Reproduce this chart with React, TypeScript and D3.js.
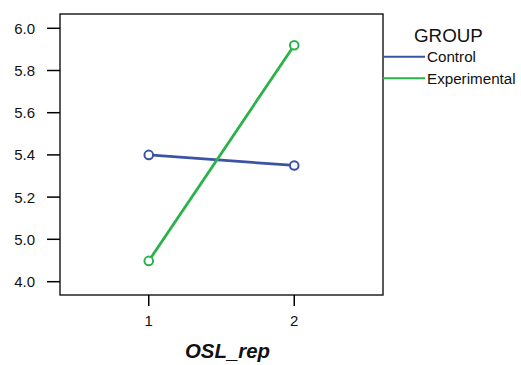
import React from "react";
import * as d3 from "d3";

const levels = ["1", "2"];
const groups = ["Control", "Experimental"];
const controlMeans = [5.4, 5.35];
const experimentalMeans = [4.49, 5.92];
const yTicks = [4.0, 5.0, 5.2, 5.4, 5.6, 5.8, 6.0];
const colors = ["#3a53a4", "#2bb24a"];

const W = 521;
const H = 365;
const plot = { left: 60, top: 14, right: 383, bottom: 295 };

export default function App() {
  const x = d3
    .scalePoint<string>()
    .domain(levels)
    .range([plot.left, plot.right])
    .padding(0.61);

  // axis has a break: 4.0 sits one step below 5.0
  const y = d3
    .scaleLinear()
    .domain([4.0, 5.0, 6.0])
    .range([281.7, 239.3, 28.3]);

  const line = d3
    .line<number>()
    .x((_, i) => x(levels[i]) as number)
    .y((d) => y(d));

  const series = [controlMeans, experimentalMeans];
  const font = "Arial, 'Liberation Sans', sans-serif";

  return (
    <svg
      width={W}
      height={H}
      style={{ position: "absolute", left: 0, top: 0, background: "#fff" }}
      fontFamily={font}
    >
      <rect
        x={plot.left}
        y={plot.top}
        width={plot.right - plot.left}
        height={plot.bottom - plot.top}
        fill="none"
        stroke="#000"
        strokeWidth={1.3}
      />
      {/* y axis */}
      {yTicks.map((t) => (
        <g key={t}>
          <line x1={47} x2={plot.left} y1={y(t)} y2={y(t)} stroke="#000" strokeWidth={1.5} />
          <text x={35} y={y(t)} dy="0.36em" textAnchor="end" fontSize={15} fill="#111">
            {t.toFixed(1)}
          </text>
        </g>
      ))}
      {/* x axis */}
      {levels.map((l) => (
        <g key={l}>
          <line
            x1={x(l)}
            x2={x(l)}
            y1={plot.bottom}
            y2={plot.bottom + 11}
            stroke="#000"
            strokeWidth={1.5}
          />
          <text x={x(l)} y={326} textAnchor="middle" fontSize={15} fill="#111">
            {l}
          </text>
        </g>
      ))}
      <text
        x={(plot.left + plot.right) / 2 + 6}
        y={358}
        textAnchor="middle"
        fontSize={20.4}
        fontWeight="bold"
        fontStyle="italic"
        fill="#111"
      >
        OSL_rep
      </text>
      {/* lines */}
      {series.map((s, gi) => (
        <g key={groups[gi]}>
          <path d={line(s) ?? ""} fill="none" stroke={colors[gi]} strokeWidth={2.8} />
          {s.map((v, i) => (
            <circle
              key={i}
              cx={x(levels[i])}
              cy={y(v)}
              r={4.3}
              fill="#fff"
              stroke={colors[gi]}
              strokeWidth={2}
            />
          ))}
        </g>
      ))}
      {/* legend */}
      <text x={414} y={41.5} fontSize={18.8} fill="#111">
        GROUP
      </text>
      {groups.map((g, i) => (
        <g key={g}>
          <line
            x1={plot.right}
            x2={425}
            y1={56.7 + i * 21.6}
            y2={56.7 + i * 21.6}
            stroke={colors[i]}
            strokeWidth={2}
          />
          <text x={427} y={56.7 + i * 21.6} dy="0.36em" fontSize={15.2} fill="#111">
            {g}
          </text>
        </g>
      ))}
    </svg>
  );
}
